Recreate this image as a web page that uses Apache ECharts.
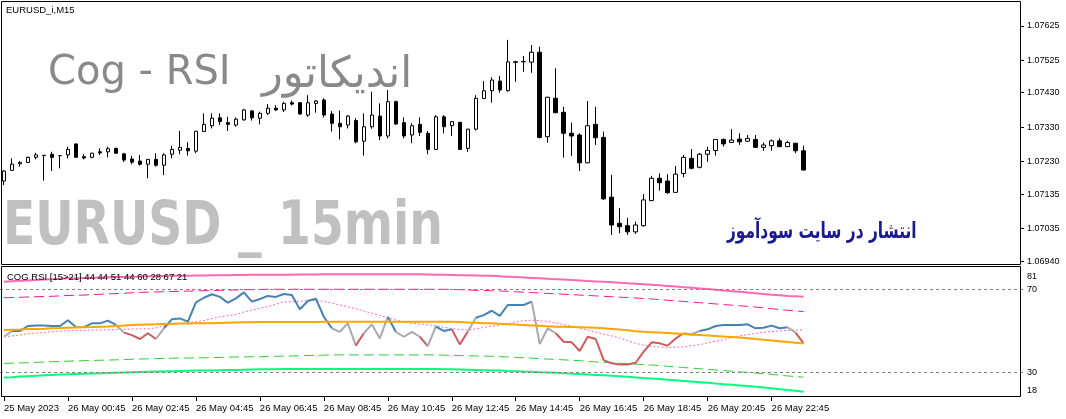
<!DOCTYPE html>
<html><head><meta charset="utf-8">
<script src="https://cdn.jsdelivr.net/npm/echarts@6/dist/echarts.min.js"></script>
<style>html,body{margin:0;padding:0;background:#fff}#c{width:1066px;height:419px}</style>
</head><body><div id="c"></div>
<script>
const barTimes = ["05-25 22:45","05-25 23:00","05-25 23:15","05-25 23:30","05-25 23:45",
"05-26 00:00","05-26 00:15","05-26 00:30","05-26 00:45","05-26 01:00","05-26 01:15","05-26 01:30","05-26 01:45",
"05-26 02:00","05-26 02:15","05-26 02:30","05-26 02:45","05-26 03:00","05-26 03:15","05-26 03:30","05-26 03:45",
"05-26 04:00","05-26 04:15","05-26 04:30","05-26 04:45","05-26 05:00","05-26 05:15","05-26 05:30","05-26 05:45",
"05-26 06:00","05-26 06:15","05-26 06:30","05-26 06:45","05-26 07:00","05-26 07:15","05-26 07:30","05-26 07:45",
"05-26 08:00","05-26 08:15","05-26 08:30","05-26 08:45","05-26 09:00","05-26 09:15","05-26 09:30","05-26 09:45",
"05-26 10:00","05-26 10:15","05-26 10:30","05-26 10:45","05-26 11:00","05-26 11:15","05-26 11:30","05-26 11:45",
"05-26 12:00","05-26 12:15","05-26 12:30","05-26 12:45","05-26 13:00","05-26 13:15","05-26 13:30","05-26 13:45",
"05-26 14:00","05-26 14:15","05-26 14:30","05-26 14:45","05-26 15:00","05-26 15:15","05-26 15:30","05-26 15:45",
"05-26 16:00","05-26 16:15","05-26 16:30","05-26 16:45","05-26 17:00","05-26 17:15","05-26 17:30","05-26 17:45",
"05-26 18:00","05-26 18:15","05-26 18:30","05-26 18:45","05-26 19:00","05-26 19:15","05-26 19:30","05-26 19:45",
"05-26 20:00","05-26 20:15","05-26 20:30","05-26 20:45","05-26 21:00","05-26 21:15","05-26 21:30","05-26 21:45",
"05-26 22:00","05-26 22:15","05-26 22:30","05-26 22:45","05-26 23:00","05-26 23:15","05-26 23:30","05-26 23:45"];

const openP = [1.07173,1.07204,1.07223,1.07227,1.07242,1.07248,1.07251,1.07247,1.07249,1.07281,
1.07244,1.07242,1.07258,1.07258,1.07268,1.07252,1.07237,1.07231,1.07222,1.07236,
1.07219,1.07251,1.07263,1.07268,1.07260,1.07317,1.07334,1.07357,1.07343,1.07336,
1.07351,1.07377,1.07356,1.07370,1.07385,1.07380,1.07401,1.07401,1.07365,1.07399,
1.07409,1.07368,1.07341,1.07336,1.07349,1.07289,1.07331,1.07362,1.07304,1.07404,
1.07343,1.07307,1.07338,1.07312,1.07265,1.07360,1.07334,1.07344,1.07268,1.07324,
1.07413,1.07436,1.07464,1.07436,1.07520,1.07521,1.07519,1.07548,1.07302,1.07414,
1.07373,1.07312,1.07307,1.07226,1.07338,1.07300,1.07126,1.07050,1.07043,1.07025,
1.07043,1.07116,1.07181,1.07173,1.07140,1.07195,1.07239,1.07213,1.07251,1.07262,
1.07294,1.07285,1.07295,1.07289,1.07294,1.07271,1.07276,1.07290,1.07273,1.07283,
1.07261];
const highP = [1.07205,1.07239,1.07231,1.07244,1.07255,1.07248,1.07258,1.07248,1.07273,1.07282,
1.07252,1.07255,1.07268,1.07273,1.07270,1.07255,1.07246,1.07249,1.07237,1.07254,
1.07254,1.07275,1.07319,1.07286,1.07319,1.07370,1.07370,1.07370,1.07360,1.07358,
1.07383,1.07380,1.07375,1.07397,1.07394,1.07404,1.07407,1.07402,1.07423,1.07409,
1.07414,1.07377,1.07378,1.07365,1.07356,1.07370,1.07433,1.07399,1.07438,1.07407,
1.07358,1.07341,1.07358,1.07319,1.07365,1.07365,1.07347,1.07345,1.07325,1.07423,
1.07464,1.07475,1.07479,1.07584,1.07523,1.07537,1.07569,1.07564,1.07418,1.07501,
1.07389,1.07343,1.07312,1.07406,1.07389,1.07317,1.07191,1.07094,1.07066,1.07055,
1.07135,1.07188,1.07195,1.07193,1.07217,1.07249,1.07266,1.07255,1.07273,1.07295,
1.07297,1.07324,1.07312,1.07307,1.07307,1.07285,1.07294,1.07297,1.07290,1.07284,
1.07276];
const lowP = [1.07161,1.07203,1.07215,1.07227,1.07236,1.07174,1.07202,1.07210,1.07239,1.07241,
1.07236,1.07239,1.07249,1.07242,1.07252,1.07228,1.07222,1.07218,1.07181,1.07215,
1.07190,1.07239,1.07251,1.07247,1.07254,1.07316,1.07326,1.07336,1.07319,1.07331,
1.07349,1.07349,1.07338,1.07365,1.07377,1.07374,1.07393,1.07367,1.07360,1.07372,
1.07358,1.07317,1.07294,1.07326,1.07283,1.07247,1.07325,1.07292,1.07297,1.07336,
1.07297,1.07283,1.07304,1.07251,1.07264,1.07312,1.07304,1.07264,1.07258,1.07320,
1.07412,1.07401,1.07430,1.07433,1.07462,1.07491,1.07488,1.07297,1.07285,1.07370,
1.07241,1.07246,1.07202,1.07225,1.07278,1.07118,1.07016,1.07021,1.07016,1.07019,
1.07040,1.07115,1.07145,1.07136,1.07139,1.07184,1.07207,1.07210,1.07229,1.07247,
1.07273,1.07284,1.07278,1.07287,1.07270,1.07261,1.07261,1.07272,1.07272,1.07254,
1.07204];
const closeP = [1.07202,1.07222,1.07227,1.07242,1.07249,1.07247,1.07242,1.07247,1.07265,1.07242,
1.07240,1.07254,1.07255,1.07267,1.07254,1.07234,1.07228,1.07222,1.07236,1.07219,
1.07249,1.07265,1.07271,1.07261,1.07318,1.07338,1.07356,1.07346,1.07338,1.07353,
1.07380,1.07357,1.07370,1.07385,1.07380,1.07399,1.07397,1.07368,1.07401,1.07406,
1.07365,1.07341,1.07331,1.07362,1.07287,1.07331,1.07365,1.07304,1.07404,1.07339,
1.07304,1.07334,1.07315,1.07265,1.07360,1.07331,1.07346,1.07265,1.07324,1.07414,
1.07436,1.07467,1.07438,1.07520,1.07519,1.07520,1.07548,1.07300,1.07417,1.07372,
1.07312,1.07304,1.07226,1.07334,1.07299,1.07121,1.07045,1.07040,1.07025,1.07045,
1.07118,1.07181,1.07168,1.07139,1.07193,1.07242,1.07210,1.07251,1.07262,1.07294,
1.07281,1.07292,1.07287,1.07297,1.07271,1.07278,1.07290,1.07273,1.07285,1.07261,
1.07205];

const priceTicks = [1.07625,1.07525,1.07430,1.07330,1.07230,1.07135,1.07035,1.06940];
const timeLabels = ["25 May 2023","26 May 00:45","26 May 02:45","26 May 04:45","26 May 06:45","26 May 08:45",
"26 May 10:45","26 May 12:45","26 May 14:45","26 May 16:45","26 May 18:45","26 May 20:45","26 May 22:45"];
const rsiTicks = [81,70,30,18];
const rsiLevels = [70,30];

const rsi = [47.2,50.0,50.0,52.4,52.7,52.7,52.4,52.4,55.2,51.9,
51.9,53.7,53.7,55.0,52.9,49.2,48.0,46.1,48.9,46.1,
51.3,55.7,56.1,54.5,63.9,66.1,67.8,66.5,63.7,65.8,
68.7,64.2,65.5,67.0,66.5,67.9,67.4,60.5,64.5,65.6,
56.9,51.3,49.6,53.7,42.9,48.9,53.2,46.4,56.9,49.6,
47.2,49.6,47.2,42.7,52.1,50.0,50.8,43.5,49.6,56.4,
57.7,59.8,57.3,62.6,62.6,62.6,64.2,43.7,51.3,48.9,
44.8,44.5,40.3,47.2,46.1,35.9,34.3,33.8,33.8,34.6,
40.0,44.5,44.0,42.9,46.4,48.9,48.4,50.0,50.8,52.4,
52.9,52.9,52.9,53.2,51.3,51.6,52.6,51.3,51.8,49.2,
44.0];
// colour of each RSI segment (point i -> i+1): b = above, r = below, g = neutral
const rsiSegColors = ("g"+"bbbbbbbb"+"g"+"bbbb"+"g"+"rrrr"+"g"+"bbbbbbbbbbbbbbbbbbbbb"+"ggg"+"r"+"ggg"+"b"+"ggg"+"r"+"g"+"bb"+"rr"+"g"+"bbbbbbb"+"ggg"+"rrrrrrrrrrrrrrrr"+"gg"+"bbbbbbbbbbb"+"g"+"r").split('');

const upperBand = [73.9,74.1,74.3,74.5,74.7,74.9,75.1,75.3,75.5,75.6,
75.7,75.8,75.9,76.0,76.1,76.2,76.3,76.4,76.5,76.5,
76.6,76.7,76.8,76.8,76.9,76.9,77.0,77.0,77.0,77.1,
77.1,77.2,77.2,77.2,77.3,77.3,77.3,77.4,77.4,77.4,
77.5,77.5,77.5,77.5,77.5,77.5,77.5,77.5,77.5,77.5,
77.5,77.5,77.5,77.4,77.3,77.2,77.1,77.0,77.0,76.9,
76.8,76.7,76.5,76.3,76.1,75.9,75.7,75.5,75.3,75.1,
74.9,74.7,74.5,74.2,74.0,73.8,73.6,73.4,73.1,72.9,
72.6,72.4,72.1,71.8,71.5,71.2,70.9,70.6,70.3,70.0,
69.6,69.3,69.0,68.6,68.3,67.9,67.6,67.3,67.0,66.8,
66.6];
const upperDash = [66.1,66.2,66.3,66.5,66.6,66.7,66.8,67.0,67.2,67.3,
67.4,67.6,67.8,68.0,68.1,68.3,68.5,68.7,68.8,68.9,
69.0,69.1,69.2,69.3,69.4,69.5,69.6,69.7,69.8,69.9,
70.0,70.0,70.1,70.2,70.2,70.2,70.2,70.2,70.2,70.2,
70.2,70.2,70.2,70.2,70.2,70.2,70.2,70.2,70.2,70.2,
70.2,70.2,70.2,70.2,70.2,70.2,70.1,70.0,69.9,69.7,
69.6,69.5,69.4,69.2,69.0,68.8,68.6,68.4,68.2,68.0,
67.8,67.6,67.4,67.2,67.0,66.8,66.6,66.4,66.2,66.0,
65.7,65.5,65.2,64.9,64.6,64.3,64.0,63.7,63.4,63.1,
62.8,62.5,62.2,61.9,61.6,61.2,60.8,60.4,60.0,59.7,
59.4];
const midDotted = [47.2,47.6,48.1,48.6,49.0,49.3,49.6,49.9,50.1,50.2,
50.3,50.4,50.5,50.6,50.7,50.8,51.0,51.0,51.0,51.5,
52.5,53.2,53.6,54.0,54.4,55.0,56.0,56.8,57.4,58.0,
59.2,60.1,61.0,61.8,63.0,64.0,64.2,64.4,64.7,65.0,
64.3,63.5,62.6,61.7,60.7,59.7,58.6,57.5,56.4,55.3,
54.3,53.8,53.3,53.0,52.5,51.8,51.2,50.7,50.5,51.0,
51.7,52.4,52.9,53.6,54.4,55.0,55.2,55.0,54.6,53.9,
53.1,52.3,51.4,50.4,49.4,48.4,47.6,46.6,45.3,44.0,
43.1,42.5,42.2,42.1,42.1,42.3,42.8,43.4,44.2,45.0,
45.8,46.8,47.6,48.2,48.8,49.3,49.7,50.0,50.2,50.4,
50.5];
const centerLine = [50.5,50.6,50.7,50.9,51.0,51.1,51.3,51.4,51.6,51.7,
51.8,51.9,52.1,52.2,52.4,52.6,52.9,53.0,53.1,53.2,
53.4,53.5,53.6,53.6,53.7,53.7,53.8,53.9,54.0,54.1,
54.2,54.2,54.3,54.3,54.4,54.4,54.4,54.4,54.4,54.4,
54.5,54.5,54.5,54.5,54.5,54.5,54.5,54.5,54.5,54.5,
54.5,54.5,54.5,54.5,54.5,54.5,54.5,54.3,54.1,54.0,
53.8,53.7,53.5,53.3,53.1,52.9,52.7,52.5,52.3,52.1,
52.0,51.9,51.8,51.7,51.5,51.3,51.0,50.7,50.3,49.9,
49.6,49.4,49.2,49.0,48.8,48.5,48.2,48.0,47.8,47.6,
47.3,47.1,46.8,46.5,46.1,45.8,45.4,45.0,44.6,44.3,
43.9];
const lowerDash = [34.3,34.4,34.5,34.6,34.8,34.9,35.1,35.2,35.4,35.5,
35.6,35.7,35.8,35.9,36.0,36.1,36.3,36.4,36.5,36.6,
36.7,36.8,36.9,36.9,37.0,37.0,37.1,37.2,37.3,37.4,
37.4,37.5,37.5,37.6,37.7,37.8,37.9,38.0,38.1,38.2,
38.3,38.4,38.4,38.4,38.4,38.4,38.4,38.4,38.4,38.4,
38.4,38.4,38.4,38.4,38.4,38.3,38.2,38.1,38.0,37.9,
37.8,37.7,37.6,37.4,37.2,37.0,36.8,36.6,36.4,36.2,
36.0,35.8,35.6,35.3,35.0,34.8,34.5,34.3,34.1,33.9,
33.7,33.5,33.2,32.9,32.6,32.3,32.0,31.7,31.4,31.1,
30.8,30.5,30.2,29.9,29.6,29.3,29.0,28.6,28.2,27.9,
27.6];
const lowerBand = [27.4,27.6,27.9,28.1,28.3,28.5,28.7,28.9,29.0,29.2,
29.3,29.4,29.5,29.6,29.8,29.9,30.0,30.1,30.2,30.3,
30.4,30.5,30.6,30.7,30.8,30.8,30.9,31.0,31.1,31.1,
31.2,31.3,31.4,31.5,31.5,31.6,31.6,31.6,31.6,31.6,
31.6,31.6,31.6,31.6,31.6,31.6,31.6,31.6,31.6,31.6,
31.6,31.6,31.6,31.6,31.6,31.5,31.4,31.3,31.2,31.1,
31.0,30.9,30.8,30.6,30.5,30.3,30.2,30.0,29.9,29.7,
29.5,29.3,29.1,28.9,28.7,28.5,28.3,28.1,27.8,27.5,
27.2,27.0,26.7,26.4,26.1,25.8,25.5,25.2,24.9,24.6,
24.2,23.9,23.6,23.3,23.0,22.6,22.2,21.8,21.4,21.0,
20.6];

// ---------- build ----------
const SLOTS = 128;
const cats = barTimes.concat(new Array(SLOTS - barTimes.length).fill(''));
const candleData = openP.map((o, i) => [o, closeP[i], lowP[i], highP[i]]);
const FONT = 'Liberation Sans';
const segColor = { b: '#4682B4', r: '#CD5C5C', g: '#A9A9A9' };

const series = [{
  type: 'candlestick', xAxisIndex: 0, yAxisIndex: 0, data: candleData,
  barWidth: 4, z: 3,
  itemStyle: { color: '#ffffff', color0: '#000000', borderColor: '#000000', borderColor0: '#000000', borderWidth: 1 }
}];

function bandLine(data, color, width, type, z) {
  return { type: 'line', xAxisIndex: 1, yAxisIndex: 1, data: data, symbol: 'none', silent: true,
    lineStyle: { color: color, width: width, type: type }, z: z };
}
series.push(bandLine(upperBand, '#FF69B4', 2, 'solid', 4));
series.push(bandLine(upperDash, '#FF1493', 1, [10, 5], 4));
series.push(bandLine(midDotted, '#FF69B4', 1, [2, 2], 4));
series.push(bandLine(lowerDash, '#32CD32', 1, [10, 5], 4));
series.push(bandLine(lowerBand, '#00FF7F', 2, 'solid', 4));

// RSI split into coloured runs
let k = 0;
while (k < rsiSegColors.length) {
  const c = rsiSegColors[k], s = k;
  while (k < rsiSegColors.length && rsiSegColors[k] === c) k++;
  const e = k;
  series.push({ type: 'line', xAxisIndex: 1, yAxisIndex: 1, symbol: 'none', silent: true, z: 5,
    data: rsi.map((v, i) => (i >= s && i <= e) ? v : null),
    lineStyle: { color: segColor[c], width: 2 } });
}
const center = bandLine(centerLine, '#FFA500', 2, 'solid', 6);
center.markLine = { silent: true, symbol: ['none', 'none'], label: { show: false },
  lineStyle: { color: '#808080', type: [3, 3], width: 1 },
  data: rsiLevels.map(v => ({ yAxis: v })) };
series.push(center);

const option = {
  animation: false,
  backgroundColor: '#ffffff',
  grid: [
    { left: -0.5, top: 1, width: 1024, height: 263 },
    { left: -0.5, top: 267, width: 1024, height: 130 }
  ],
  xAxis: [
    { gridIndex: 0, type: 'category', data: cats, show: false },
    { gridIndex: 1, type: 'category', data: cats,
      axisLine: { show: false }, splitLine: { show: false },
      axisTick: { show: true, alignWithLabel: true, length: 4, lineStyle: { color: '#000' },
        interval: (i) => i % 8 === 0 && i <= 96 },
      axisLabel: { interval: (i) => i % 8 === 0 && i <= 96, align: 'left', margin: 6,
        color: '#000', fontFamily: FONT, fontSize: 9.5,
        formatter: (v, i) => (i % 8 === 0 && timeLabels[i / 8]) ? timeLabels[i / 8] : '' } }
  ],
  yAxis: [
    { gridIndex: 0, type: 'value', position: 'right', offset: -2.5,
      min: 1.077 - 264 / 34350, max: 1.077 - 1 / 34350,
      axisLine: { show: false }, splitLine: { show: false },
      axisTick: { show: true, customValues: priceTicks, length: 3, lineStyle: { color: '#000' } },
      axisLabel: { customValues: priceTicks, formatter: v => v.toFixed(5), margin: 6,
        color: '#000', fontFamily: FONT, fontSize: 9 } },
    { gridIndex: 1, type: 'value', position: 'right', offset: -2.5, min: 18, max: 81,
      axisLine: { show: false }, splitLine: { show: false },
      axisTick: { show: false },
      axisLabel: { customValues: rsiTicks, margin: 6, color: '#000', fontFamily: FONT, fontSize: 9,
        formatter: v => v === 81 ? '{t|81}' : (v === 18 ? '{b|18}' : '{n|' + v + '}'),
        rich: { t: { padding: [20, 0, 0, 0], fontFamily: FONT, fontSize: 9, color: '#000' },
                b: { padding: [0, 0, 12, 0], fontFamily: FONT, fontSize: 9, color: '#000' },
                n: { fontFamily: FONT, fontSize: 9, color: '#000' } } } }
  ],
  graphic: [
    { type: 'rect', z: 20, silent: true, shape: { x: 1.5, y: 1.5, width: 1019, height: 263 },
      style: { fill: 'none', stroke: '#000', lineWidth: 1 } },
    { type: 'rect', z: 20, silent: true, shape: { x: 1.5, y: 266.5, width: 1019, height: 130 },
      style: { fill: 'none', stroke: '#000', lineWidth: 1 } },
    { type: 'text', z: 1, x: 48, y: 54, silent: true,
      style: { text: 'Cog - RSI', fontSize: 40, fontFamily: "'DejaVu Sans'", fill: '#898989', verticalAlign: 'top' } },
    { type: 'text', z: 1, x: 262, y: 54, silent: true,
      style: { text: 'اندیکاتور', fontSize: 43, fontFamily: "'DejaVu Sans'", fill: '#898989', verticalAlign: 'top' } },
    { type: 'text', z: 1, x: 3, y: 198, scaleX: 0.875, silent: true,
      style: { text: 'EURUSD _ 15min', fontSize: 60, fontWeight: 'bold', fontFamily: "'DejaVu Sans Condensed','DejaVu Sans'", fill: '#C0C0C0', verticalAlign: 'top' } },
    { type: 'text', z: 1, x: 727, y: 221, scaleX: 0.7, silent: true,
      style: { text: 'انتشار در سایت سودآموز', fontSize: 22, fontWeight: 'bold', fontFamily: "'DejaVu Sans'", fill: '#1A1A8C', verticalAlign: 'top' } },
    { type: 'text', z: 21, left: 6, top: 5, silent: true,
      style: { text: 'EURUSD_i,M15', fontSize: 9.5, fontFamily: FONT, fill: '#000' } },
    { type: 'text', z: 21, left: 7, top: 272, silent: true,
      style: { text: 'COG RSI [15>21] 44 44 51 44 60 28 67 21', fontSize: 9.5, fontFamily: FONT, fill: '#000' } }
  ],
  series: series
};
const chart = echarts.init(document.getElementById('c'));
chart.setOption(option);
</script>
</body></html>
